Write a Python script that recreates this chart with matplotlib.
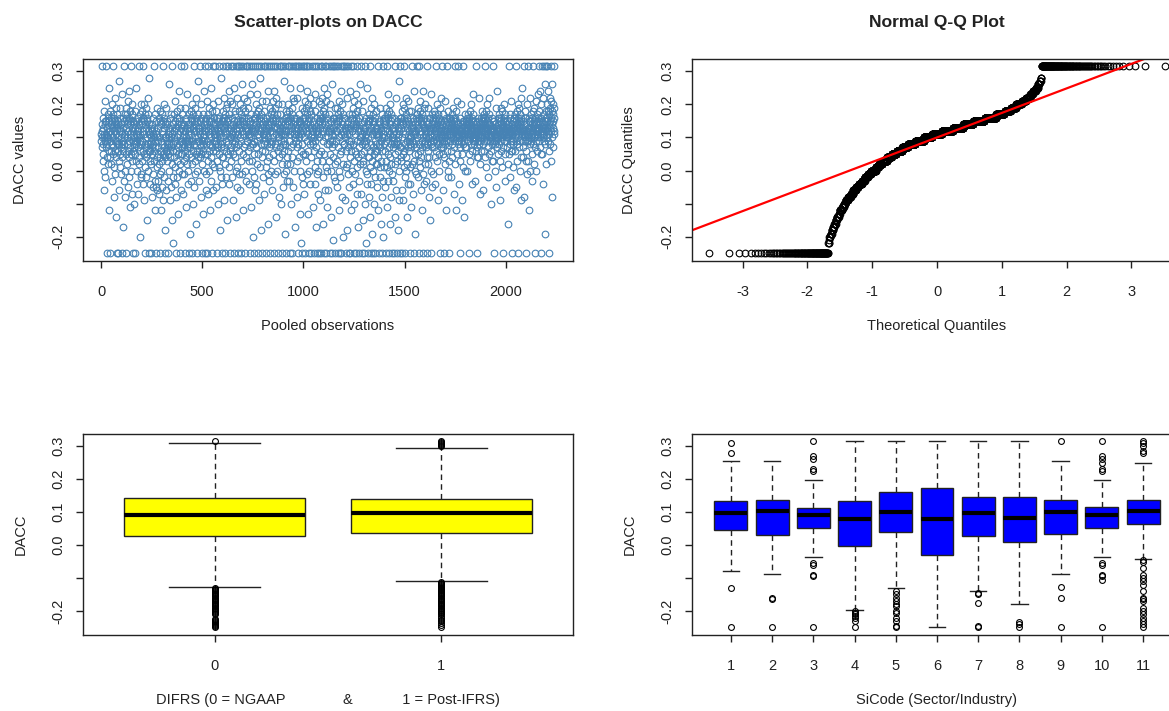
#!/usr/bin/env python3
import statistics
import numpy as np
import matplotlib
matplotlib.use("Agg")
import matplotlib.pyplot as plt

plt.rcParams["font.family"] = ["Liberation Sans", "DejaVu Sans"]
plt.rcParams["axes.unicode_minus"] = False

# DACC read off the scatter, one value per pooled observation (in order),
# in hundredths; 31.5 and -25 are the winsorised caps
dacc_pct = [
    11, 9, 14, 7, 12, 31.5, 10, 5, 16, 8, 13, 3, 11, -6, 18, 10, 0, 15, 21, 9, -2, 14, 8, 11, 31.5, 7, 15, 10, -25, 4, 13, 9, 17, 2, 10, 16, 6, -12, 12, 25,
    15, 4, 12, 18, 9, -25, 14, 6, 16, 11, 2, 20, 8, 15, -3, 13, 5, 17, 10, 31.5, 7, 14, -8, 16, 12, 1, 22, 9, 15, -1, 6, 19, 11, -14, 14, 4, 17, -25, 8, 13,
    9, 14, -25, 6, 15, 10, 3, 27, 12, 8, -6, 13, 1, 19, 5, 16, 12, -1, 7, 14, 10, -25, 23, 8, 11, 4, 16, 9, -17, 13, 6, 10, 31.5, -3, 15, 8, 11, -8, 17, 0,
    16, 5, 13, -25, 19, 8, 14, 2, 17, 10, -5, 15, 6, 21, 12, -2, 9, 16, 4, 24, 11, -11, 14, 7, 18, 0, 15, 10, 31.5, 5, 13, -7, 17, 3, 20, 9, -25, 15, 12, 6,
    7, 10, 14, -10, 8, 13, 5, 18, 9, -25, 11, 3, 15, 8, 25, 10, -4, 12, 0, 9, 16, 7, 12, -7, 13, 2, 31.5, 4, 10, 14, -20, 9, 17, 6, 11, -2, 8, 20, 15, -1,
    14, 3, 18, 9, -4, 16, 6, 12, 31.5, 5, 15, -9, 20, 11, 1, 17, 8, -25, 14, 4, 13, 19, -2, 7, 16, 10, -15, 15, 5, 22, 12, 0, 17, 8, -25, 14, 6, 28, 11, 3,
    8, -4, 11, 6, 13, 9, -25, 2, 10, 14, 7, -8, 12, 5, 16, -5, 11, -1, 8, 6, 31.5, 10, 3, 13, -12, 7, 9, 17, -3, 11, -5, 15, -25, 12, 4, 10, 19, -6, 1, 9,
    5, -3, 13, 7, -7, 16, 2, 10, -25, 15, 4, -1, 18, 9, -12, 14, 6, 0, 12, 3, 17, -5, 8, 15, 31.5, 11, -9, 5, 20, 13, -2, 7, 16, -25, 4, 14, 10, -18, 19, 6,
    6, 10, -6, 8, 14, 3, 9, 15, -3, 7, 11, -25, 5, 13, 8, 0, 10, 26, 6, 12, -9, 16, 4, 8, 17, 10, -5, 7, 31.5, 11, 2, 13, -15, 6, 14, 8, -22, -2, 10, 12,
    12, 4, 17, -4, 9, 15, 1, 21, -25, 13, 6, -8, 16, 10, 3, 18, -2, 14, 7, -13, 11, 5, 15, 0, 24, 8, 16, -25, 12, 2, 19, 9, -6, 14, 5, 31.5, 13, -1, 17, 7,
    9, 5, 12, 8, -7, 14, 10, 3, 31.5, 7, 11, -1, 9, 19, 6, -25, 12, 15, 4, 10, 16, -11, 7, 9, 13, 2, 23, 8, -4, 11, 0, 14, -25, 17, 5, 9, 12, -19, 8, 13,
    14, 7, -3, 18, 11, 4, 16, -25, 9, 15, 2, 20, 13, -10, 6, 17, 12, -5, 15, 31.5, 8, 3, 19, 14, -1, 10, 16, 5, -16, 22, 12, 6, -25, 15, 9, 0, 17, 13, 4, 27,
    10, 13, 6, 9, -3, 12, 31.5, 8, 15, 4, 11, -8, 7, 16, 20, 5, 13, -25, 9, 12, 2, 8, 17, 10, -13, 6, 11, 14, 0, 24, 9, -25, 12, 5, 15, 31.5, 8, -6, 13, -1,
    16, 9, 21, 5, -25, 14, 12, 31.5, 3, 17, -7, 11, 15, 6, 19, 0, 13, 8, -12, 16, 4, 25, 10, -3, 15, 7, 18, -25, 12, 2, 14, 31.5, 6, -6, 20, 11, 1, 16, 9, 13,
    12, 8, 31.5, 10, 14, 6, -5, 11, 9, 18, 13, 3, 16, -25, 7, 15, 12, 21, 8, -10, 11, 1, 16, 5, 31.5, 12, 0, 10, 14, -18, 8, -2, 28, 7, 13, -25, 9, 15, -4, 4,
    15, 31.5, 10, 18, 4, 13, -9, 16, 7, 22, 12, -25, 17, 2, 14, 31.5, 9, -2, 19, 6, 15, 11, -15, 20, 5, 13, 31.5, 8, 16, -4, 24, 12, 1, 17, -25, 10, 14, 6, 21, 3,
    10, 31.5, 13, 7, 16, 11, -2, 9, 20, 12, 31.5, 5, 14, -9, 10, 8, 25, 15, -25, 17, 9, 11, 4, 18, 31.5, 0, 13, -14, 7, 12, 22, -5, 15, 1, 31.5, 11, -25, 8, 14, -1,
    13, 18, 31.5, 6, 15, 10, -6, 20, 14, 3, 31.5, 17, -25, 9, 16, 12, 26, -1, 15, 5, 19, 31.5, 11, -12, 14, 7, 22, 16, 0, 13, -25, 18, 8, 31.5, 4, 15, -3, 12, 21, 9,
    13, 9, 31.5, 16, 11, 6, 19, 12, -4, 10, 31.5, 14, 3, 23, -25, 11, 15, 7, 12, 31.5, 10, -11, 17, 0, 13, 3, 8, 26, 14, 8, -20, 12, 31.5, -2, 16, 5, 9, -25, 13, -6,
    16, 12, 31.5, 7, 20, 14, -4, 17, 9, 31.5, 15, 2, 23, 11, -25, 18, 13, 5, 31.5, 16, -9, 10, 19, 14, 1, 28, 12, -18, 15, 8, 31.5, 17, 4, -25, 21, 13, 6, 16, -2, 11,
    11, 14, 8, 31.5, 10, 18, -7, 12, 9, 15, 31.5, 6, 13, 21, 1, -25, 11, 8, 16, 31.5, 12, 3, -1, 14, -16, 10, 24, 7, 13, 31.5, 4, -3, 15, 9, 19, 12, -25, 0, 8, 17,
    14, 31.5, 18, 9, 16, -6, 12, 21, 5, 31.5, 15, 10, -25, 17, 13, 3, 24, 8, 31.5, 15, -1, 19, 11, -14, 16, 7, 22, 13, 0, 31.5, 17, 6, -25, 14, 20, 10, -8, 15, 12, 4,
    10, 31.5, 13, 7, 17, 12, -10, 9, 31.5, 14, 11, 20, 5, 2, -25, 13, 8, 31.5, 15, 11, -5, 9, 12, 27, -1, 6, 14, -19, 11, 31.5, 8, 16, 18, 0, -25, 12, 2, -3, 15, 4,
    17, 12, 31.5, 15, 6, 20, -3, 14, 9, 31.5, 18, -25, 11, 16, 2, 25, 13, -10, 31.5, 15, 7, 19, 12, -25, 17, 4, 22, 14, 31.5, 8, -5, 16, 11, 21, 0, 15, 31.5, 10, -17, 13,
    12, 9, 16, 31.5, 11, -8, 14, 7, 3, 22, 31.5, 13, -25, 8, 11, 17, 4, 15, 31.5, 10, -13, 15, 0, 12, 25, 6, 31.5, 11, -22, 14, 8, 19, -2, -25, 13, 31.5, 5, 12, -4, 16,
    15, 10, 31.5, 18, -7, 13, 21, 5, -25, 16, 12, 31.5, 3, 19, 14, -1, 17, 9, 24, 31.5, 11, -13, 15, 6, 20, -25, 13, 16, 0, 31.5, 8, 18, -4, 14, 22, 10, -25, 17, 4, 12,
    9, 13, 31.5, 11, -11, 15, 8, 20, 12, -25, 10, 6, 31.5, 14, 18, -4, 1, 9, 23, 12, 31.5, 7, -17, 13, -1, 16, 3, -25, 11, 14, 31.5, 0, 12, -7, 21, 10, 5, 15, -25, 16,
    13, 17, -9, 15, 31.5, 6, 20, 11, -25, 16, 3, 22, 14, 31.5, 9, -2, 18, 12, -16, 25, 15, 5, -25, 19, 31.5, 10, 14, -6, 17, 1, 21, 31.5, 13, -25, 8, 16, 0, 23, -11, 12,
    10, 14, -6, 12, 31.5, 8, 17, 3, -25, 13, 9, 20, 5, 31.5, 12, -14, 0, 15, 7, 26, 11, -25, 9, 13, 31.5, 4, 16, -21, 16, -2, 8, 31.5, 14, -3, 11, 19, 2, -25, 12, 15,
    16, 9, 31.5, 14, -5, 19, 12, 3, -25, 17, 7, 31.5, 15, -12, 21, 10, 0, 16, 5, -25, 13, 18, -2, 31.5, 11, 24, 6, -25, 15, 9, -8, 20, 14, 2, 17, -20, 12, 31.5, 8, 16,
    11, 8, 31.5, 13, -9, 10, 16, 6, -25, 12, 1, 31.5, 14, 2, 11, -18, 22, -1, 13, 7, 31.5, 15, -25, 9, 17, -5, 11, 8, 24, 13, -25, 4, 6, 31.5, 14, -12, 9, 12, 17, 0,
    12, 16, -4, 14, 31.5, 8, 19, -25, 15, 3, 21, -10, 13, 6, 17, -1, 11, -25, 16, 5, 23, 14, -7, 31.5, 9, 18, 1, 15, -17, 12, 20, 4, -25, 16, 7, -3, 13, 26, 10, 2,
    9, 12, -7, 10, 31.5, 14, 5, -25, 11, 8, 18, -15, 13, 2, 3, 21, 9, -25, 12, 6, 15, 10, -10, 31.5, 8, 13, 0, 11, -22, 9, 16, 12, -4, 7, -1, 25, 15, -25, 14, 4,
    10, 15, -8, 17, 4, 12, 31.5, 6, -14, 16, 1, 19, -25, 13, 8, -4, 15, 3, 22, 11, -19, 14, 7, 0, 17, -25, 12, 5, 20, -10, 15, -2, 9, 16, -25, 6, 18, 2, 13, 11,
    8, 11, -5, 13, 6, 2, 31.5, 12, -12, 10, 4, 15, -25, 8, 11, -2, 14, 7, 19, 1, -16, 12, 9, 3, 13, -25, 10, 6, 17, -8, 11, -3, 31.5, 15, -20, 8, 14, 1, 10, 16,
    14, 6, 16, -5, 12, 3, 19, -25, 15, 9, 1, 31.5, 17, -11, 13, 5, 23, 10, -3, 16, 12, 0, -25, 18, 7, -16, 14, 11, 4, 20, 15, -8, 2, 17, 8, 13, -1, -25, 16, 10,
    10, 7, 13, -3, 11, 8, 16, -25, 9, 12, 5, 31.5, 2, -14, 14, 8, 22, 11, -6, 9, 15, 3, -25, 15, 10, -18, 8, 13, 6, 11, 27, 0, -9, 12, 31.5, 7, 16, -25, 14, 4,
    13, 7, 16, 3, -6, 15, 10, -25, 18, 5, 20, 12, -9, 14, 1, 31.5, 16, 6, 19, -2, 11, 15, -25, 8, 22, 0, 14, 4, 17, -14, 13, 9, 2, 16, -4, 21, 10, 15, 7, 18,
    9, 12, 6, 14, -4, 10, 1, -25, 8, 13, 18, 10, -11, 7, 12, 31.5, 9, 2, 15, 11, -7, 16, 13, 8, 24, -25, 12, 3, 5, 11, -19, 14, 0, 7, 12, -1, 16, 9, 31.5, 17,
    15, 10, 17, 5, 13, 19, -2, 14, 8, 31.5, 3, 16, -25, 11, 6, 18, 21, 1, -6, 15, 12, 4, 16, 14, -12, 9, 17, 7, 24, -1, -25, 14, 10, 19, 13, -4, 16, 8, 20, 2,
    11, 9, 13, 7, 10, 15, -3, 12, 8, 31.5, 4, 14, -25, 10, 6, 12, 19, 2, -8, 13, 16, 4, 11, 16, -15, 9, 12, 8, 23, 0, -25, 13, 7, 17, 14, -5, 10, 9, 15, -1,
    13, 16, 9, 14, 11, 18, 7, -4, 15, 12, 4, 17, 10, 31.5, 13, 16, 6, 11, 14, 20, 9, 3, -9, 15, 12, 17, 8, 13, 5, 16, 10, 0, 14, 19, 11, -25, 12, 7, 15, 22,
    10, 13, 8, 11, 31.5, 9, 14, -6, 12, 5, 7, 17, 11, -25, 9, 15, 4, 10, 12, 21, 8, 2, -12, 14, 9, 16, 31.5, 12, 6, 15, 11, -2, 9, 13, 0, 18, -25, 11, 3, 16,
    14, 11, 13, 16, 9, 12, 15, 6, -2, 13, 10, 17, 14, 8, 4, 12, 16, 11, 19, 10, 13, 7, 15, 12, -7, 14, 9, 31.5, 2, 16, 12, 18, 10, 13, -12, 15, 5, 11, 14, 21,
    12, 9, 11, 14, 8, 31.5, 10, 13, -4, 11, 9, 16, 12, 7, 3, -25, 13, 11, 20, 9, 12, 10, 5, 14, 11, -9, 15, 8, 31.5, 1, 13, 15, 9, 11, -14, 12, 0, 7, 17, 11,
    12, 15, 10, 14, 7, 13, 16, 11, 0, 14, 12, 17, 9, 13, 15, 5, 11, 14, -25, 16, 12, 10, 18, 13, 3, 15, 11, 8, 20, 14, -4, 12, 16, 6, 13, 10, 17, 9, 15, 23,
    11, 10, 13, 8, 12, 9, 15, 11, -3, 10, 12, 14, 31.5, 6, 11, 7, 13, 4, -25, 12, 16, 9, 11, 10, 4, 13, 15, 8, 22, 11, -7, 2, 14, 9, 12, 16, 6, 13, 10, 18,
    13, 11, 15, 10, 16, 8, 14, 12, -6, 15, 9, 13, 17, 6, 12, 31.5, 14, 4, 16, 11, 10, 18, 13, 1, 15, 12, 9, 14, 20, 7, 13, -2, 16, 11, 5, 14, 10, 22, 17, 12,
    10, 12, 9, 14, 11, 6, 13, 10, -10, 12, 8, 3, 16, 9, 31.5, 12, 15, 3, 13, 11, 9, 15, 12, -25, 10, 8, 11, 14, 0, 19, 9, 11, -5, 13, 10, 7, 12, 24, 16, 5,
    14, 10, 13, 16, 8, 12, 17, 11, -9, 15, 3, 13, 12, 19, 9, 14, 6, 16, 11, 13, 18, 10, 1, 15, 12, 7, 14, -25, 16, 11, 20, 9, 13, 5, 15, 12, -3, 17, 10, 14,
    12, 9, 11, 13, 7, 10, 15, 12, -16, 11, 2, 14, 10, 31.5, 12, 5, 11, 13, 8, 16, 17, 12, -2, 11, 9, 13, 6, 21, 12, 6, -25, 11, 14, 1, 9, 15, 8, 13, -6, 16,
    13, 16, 10, 14, 6, 17, 12, 9, 15, 31.5, 11, -5, 14, 18, 8, 13, 3, 16, 12, 20, 10, -25, 15, 11, 7, 19, 13, 0, 14, 17, 9, 12, 22, -9, 15, 4, 16, 11, 13, 25,
    11, 13, 9, 12, 4, 15, 7, 11, 31.5, 12, 14, -8, 10, 16, 9, 18, 11, 6, 12, 3, -25, 14, 11, 9, 20, 12, -1, 13, 3, 11, 31.5, 9, 16, 15, -12, 10, 13, 0, 8, 22,
    12, 15, 9, 13, 17, 10, 14, 5, 16, 11, -3, 13, 18, 8, 12, 31.5, 15, 10, 2, 14, 19, 11, 13, 7, 16, -25, 12, 21, 9, 14, 0, 15, 11, 17, 6, 13, 23, 10, 16, 12,
    12, 15, 9, 31.5, 13, 18, 11, 7, 14, 24, 10, -25, 16, 12, 5, 20, 13, 31.5, 11, 5, 15, 10, 22, 13, -4, 12, 17, 9, 31.5, 14, 11, 26, 8, 13, -19, 15, 2, 12, 18, 31.5,
    16, 13, 20, 10, 31.5, 15, 9, 18, 12, 24, 14, 6, 17, 11, -25, 19, 13, 8, 22, 15, 31.5, 12, 16, 3, 21, 14, -8, 18, 10, 26, 13, 17, 7, 15, 20, 11, 31.5, 16, 12, 19,
]

# boxplot by DIFRS (0 = NGAAP, 1 = Post-IFRS)
difrs_labels = ["0", "1"]
difrs_q1 = [0.027, 0.036]
difrs_med = [0.091, 0.097]
difrs_q3 = [0.142, 0.139]
difrs_lo = [-0.127, -0.109]
difrs_hi = [0.309, 0.294]
difrs_out = [
    [0.315, -0.13, -0.133, -0.136, -0.14, -0.143, -0.146, -0.15, -0.153, -0.156, -0.16, -0.163, -0.166,
     -0.17, -0.173, -0.176, -0.18, -0.183, -0.186, -0.19, -0.193, -0.196, -0.2, -0.203, -0.206,
     -0.21, -0.225, -0.228, -0.231, -0.234, -0.237, -0.24, -0.243, -0.246, -0.25],
    [0.30, 0.303, 0.306, 0.309, 0.312, 0.315, -0.112, -0.115, -0.118, -0.121, -0.124, -0.127, -0.13,
     -0.133, -0.136, -0.14, -0.143, -0.146, -0.15, -0.153, -0.156, -0.16, -0.163, -0.166, -0.17,
     -0.173, -0.176, -0.18, -0.183, -0.186, -0.19, -0.193, -0.196, -0.2, -0.203, -0.206, -0.21,
     -0.214, -0.22, -0.226, -0.232, -0.238, -0.244, -0.25],
]

# boxplot by SiCode (sector / industry)
sic_labels = ["1", "2", "3", "4", "5", "6", "7", "8", "9", "10", "11"]
sic_q1 = [0.045, 0.032, 0.051, -0.002, 0.040, -0.030, 0.028, 0.010, 0.033, 0.051, 0.063]
sic_med = [0.097, 0.104, 0.091, 0.079, 0.101, 0.079, 0.096, 0.083, 0.100, 0.092, 0.104]
sic_q3 = [0.134, 0.138, 0.113, 0.133, 0.162, 0.172, 0.146, 0.146, 0.136, 0.116, 0.136]
sic_lo = [-0.079, -0.089, -0.037, -0.197, -0.129, -0.25, -0.138, -0.180, -0.089, -0.035, -0.043]
sic_hi = [0.255, 0.255, 0.197, 0.315, 0.315, 0.315, 0.315, 0.315, 0.255, 0.197, 0.250]
sic_out = [
    [0.31, 0.28, -0.13, -0.25],
    [-0.16, -0.165, -0.25],
    [0.315, 0.27, 0.26, 0.23, 0.225, -0.055, -0.06, -0.09, -0.095, -0.25],
    [-0.2, -0.205, -0.21, -0.215, -0.22, -0.23, -0.25],
    [-0.14, -0.15, -0.16, -0.17, -0.18, -0.185, -0.2, -0.205, -0.22, -0.23, -0.245, -0.25],
    [],
    [-0.145, -0.15, -0.175, -0.245, -0.25],
    [-0.235, -0.24, -0.25],
    [0.315, -0.128, -0.16, -0.25],
    [0.315, 0.27, 0.26, 0.25, 0.23, 0.225, -0.055, -0.06, -0.09, -0.095, -0.105, -0.25],
    [0.315, 0.31, 0.30, 0.285, 0.28, -0.045, -0.05, -0.07, -0.09, -0.1, -0.11, -0.12, -0.14,
     -0.16, -0.165, -0.17, -0.19, -0.2, -0.21, -0.22, -0.23, -0.24, -0.25],
]

y_ticks = [-0.2, -0.1, 0.0, 0.1, 0.2, 0.3]
y_ticklabels = ["-0.2", "", "0.0", "0.1", "0.2", "0.3"]

FG = "#222222"
FS = 10.5


def r_style(ax, ylabel, xlabel):
    for sp in ax.spines.values():
        sp.set_color(FG)
        sp.set_linewidth(1.0)
    ax.tick_params(direction="out", length=5, width=1, color=FG, labelsize=FS, labelcolor=FG)
    ax.tick_params(axis="x", pad=12)
    ax.tick_params(axis="y", pad=8)
    ax.set_ylim(-0.273, 0.337)
    ax.set_yticks(y_ticks)
    ax.set_yticklabels(y_ticklabels, rotation=90, va="center")
    ax.set_ylabel(ylabel, fontsize=FS, color=FG, labelpad=17)
    ax.set_xlabel(xlabel, fontsize=FS, color=FG, labelpad=15)


def boxes(ax, q1, med, q3, lo, hi, out, color):
    stats = []
    for i in range(len(med)):
        stats.append(dict(q1=q1[i], med=med[i], q3=q3[i], whislo=lo[i], whishi=hi[i], fliers=out[i]))
    ax.bxp(stats, positions=np.arange(1, len(stats) + 1), widths=0.8, capwidths=0.4,
           patch_artist=True,
           boxprops=dict(facecolor=color, edgecolor=FG, linewidth=1),
           medianprops=dict(color="black", linewidth=3),
           whiskerprops=dict(color=FG, linewidth=1, linestyle=(0, (4, 3))),
           capprops=dict(color=FG, linewidth=1),
           flierprops=dict(marker="o", markerfacecolor="none", markeredgecolor="black",
                           markersize=4.2, markeredgewidth=0.8, linestyle="none"))


def main():
    fig = plt.figure(figsize=(11.69, 7.11), dpi=100)
    w = 490 / 1169
    ax1 = fig.add_axes([83 / 1169, 1 - 261 / 711, w, 202 / 711])
    ax2 = fig.add_axes([692 / 1169, 1 - 261 / 711, w, 202 / 711])
    ax3 = fig.add_axes([83 / 1169, 1 - 635 / 711, w, 201 / 711])
    ax4 = fig.add_axes([692 / 1169, 1 - 635 / 711, w, 201 / 711])

    vals = np.array(dacc_pct) / 100.0
    n = len(vals)
    obs = np.arange(1, n + 1)

    # scatter
    ax1.plot(obs, vals, "o", ms=4.8, mfc="none", mec="#4682B4", mew=0.8)
    ax1.set_xlim(-89, 2332)
    ax1.set_xticks([0, 500, 1000, 1500, 2000])
    r_style(ax1, "DACC values", "Pooled observations")
    ax1.set_title("Scatter-plots on DACC", fontsize=12.6, fontweight="bold", color=FG, pad=23)

    # normal Q-Q
    nd = statistics.NormalDist()
    theo = np.array([nd.inv_cdf((i - 0.5) / n) for i in range(1, n + 1)])
    ax2.plot(theo, np.sort(vals), "o", ms=4.8, mfc="none", mec="black", mew=0.8)
    q1, q3 = np.quantile(vals, [0.25, 0.75])
    z1, z3 = nd.inv_cdf(0.25), nd.inv_cdf(0.75)
    slope = (q3 - q1) / (z3 - z1)
    ax2.axline((0, q1 - slope * z1), slope=slope, color="red", linewidth=1.6)
    ax2.set_xlim(-3.78, 3.78)
    ax2.set_xticks([-3, -2, -1, 0, 1, 2, 3])
    r_style(ax2, "DACC Quantiles", "Theoretical Quantiles")
    ax2.set_title("Normal Q-Q Plot", fontsize=12.6, fontweight="bold", color=FG, pad=23)

    # boxplot by DIFRS
    boxes(ax3, difrs_q1, difrs_med, difrs_q3, difrs_lo, difrs_hi, difrs_out, "#FFFF00")
    ax3.set_xlim(0.42, 2.58)
    ax3.set_xticks([1, 2])
    ax3.set_xticklabels(difrs_labels)
    r_style(ax3, "DACC", "DIFRS (0 = NGAAP              &            1 = Post-IFRS)")

    # boxplot by SiCode
    boxes(ax4, sic_q1, sic_med, sic_q3, sic_lo, sic_hi, sic_out, "#0000FF")
    ax4.set_xlim(0.06, 11.94)
    ax4.set_xticks(np.arange(1, 12))
    ax4.set_xticklabels(sic_labels)
    r_style(ax4, "DACC", "SiCode (Sector/Industry)")

    fig.savefig("out.png", dpi=100)


if __name__ == "__main__":
    main()
